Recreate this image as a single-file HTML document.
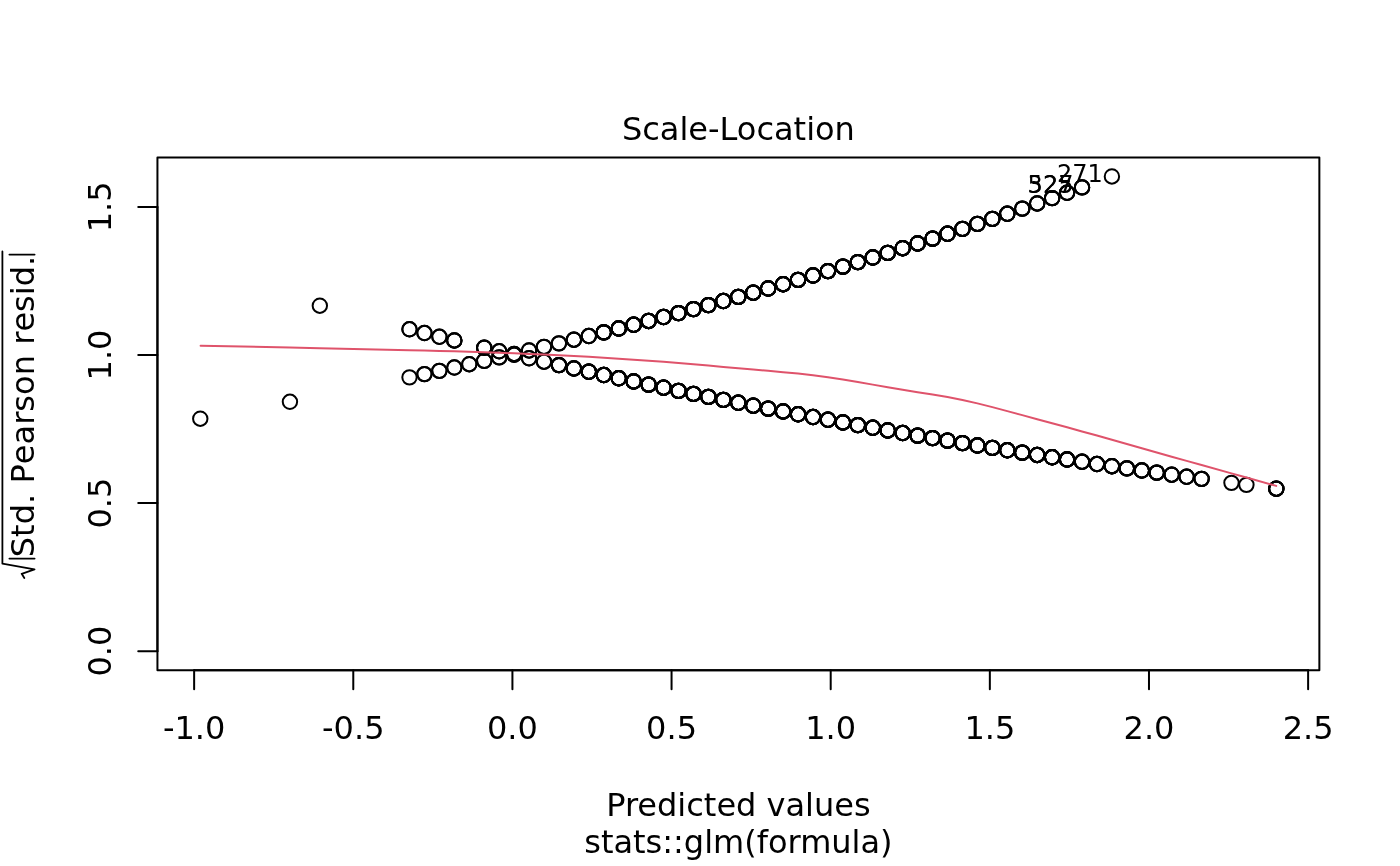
<!DOCTYPE html>
<html lang="en"><head><meta charset="utf-8"><title>Scale-Location</title>
<style>html,body{margin:0;padding:0;background:#fff}body{width:1400px;height:866px;overflow:hidden}svg{display:block}text{font-family:'DejaVu Sans','Liberation Sans',sans-serif;fill:#000}.l{stroke:#000;stroke-width:2;stroke-linecap:round;stroke-linejoin:round;fill:none}.p circle{stroke:#000;stroke-width:2;fill:none}.t{font-size:32px}.s{font-size:24px}</style></head><body>
<svg width="1400" height="866" viewBox="0 0 1400 866">
<rect width="1400" height="866" fill="#fff"/>
<g class="p">
<circle cx="409.50" cy="377.34" r="7.2"/>
<circle cx="424.44" cy="374.12" r="7.2"/>
<circle cx="424.44" cy="374.12" r="7.2"/>
<circle cx="439.39" cy="370.85" r="7.2"/>
<circle cx="439.39" cy="370.85" r="7.2"/>
<circle cx="454.33" cy="367.55" r="7.2"/>
<circle cx="454.33" cy="367.55" r="7.2"/>
<circle cx="469.28" cy="364.21" r="7.2"/>
<circle cx="469.28" cy="364.21" r="7.2"/>
<circle cx="484.23" cy="360.83" r="7.2"/>
<circle cx="484.23" cy="360.83" r="7.2"/>
<circle cx="499.17" cy="357.42" r="7.2"/>
<circle cx="499.17" cy="357.42" r="7.2"/>
<circle cx="514.12" cy="353.96" r="7.2"/>
<circle cx="514.12" cy="353.96" r="7.2"/>
<circle cx="529.06" cy="350.46" r="7.2"/>
<circle cx="529.06" cy="350.46" r="7.2"/>
<circle cx="544.00" cy="346.91" r="7.2"/>
<circle cx="544.00" cy="346.91" r="7.2"/>
<circle cx="558.95" cy="343.33" r="7.2"/>
<circle cx="558.95" cy="343.33" r="7.2"/>
<circle cx="573.89" cy="339.71" r="7.2"/>
<circle cx="573.89" cy="339.71" r="7.2"/>
<circle cx="573.89" cy="339.71" r="7.2"/>
<circle cx="588.84" cy="336.04" r="7.2"/>
<circle cx="588.84" cy="336.04" r="7.2"/>
<circle cx="588.84" cy="336.04" r="7.2"/>
<circle cx="603.78" cy="332.33" r="7.2"/>
<circle cx="603.78" cy="332.33" r="7.2"/>
<circle cx="603.78" cy="332.33" r="7.2"/>
<circle cx="603.78" cy="332.33" r="7.2"/>
<circle cx="603.78" cy="332.33" r="7.2"/>
<circle cx="603.78" cy="332.33" r="7.2"/>
<circle cx="618.73" cy="328.57" r="7.2"/>
<circle cx="618.73" cy="328.57" r="7.2"/>
<circle cx="618.73" cy="328.57" r="7.2"/>
<circle cx="618.73" cy="328.57" r="7.2"/>
<circle cx="618.73" cy="328.57" r="7.2"/>
<circle cx="618.73" cy="328.57" r="7.2"/>
<circle cx="633.67" cy="324.77" r="7.2"/>
<circle cx="633.67" cy="324.77" r="7.2"/>
<circle cx="633.67" cy="324.77" r="7.2"/>
<circle cx="633.67" cy="324.77" r="7.2"/>
<circle cx="633.67" cy="324.77" r="7.2"/>
<circle cx="633.67" cy="324.77" r="7.2"/>
<circle cx="648.62" cy="320.93" r="7.2"/>
<circle cx="648.62" cy="320.93" r="7.2"/>
<circle cx="648.62" cy="320.93" r="7.2"/>
<circle cx="648.62" cy="320.93" r="7.2"/>
<circle cx="648.62" cy="320.93" r="7.2"/>
<circle cx="648.62" cy="320.93" r="7.2"/>
<circle cx="663.57" cy="317.04" r="7.2"/>
<circle cx="663.57" cy="317.04" r="7.2"/>
<circle cx="663.57" cy="317.04" r="7.2"/>
<circle cx="663.57" cy="317.04" r="7.2"/>
<circle cx="663.57" cy="317.04" r="7.2"/>
<circle cx="663.57" cy="317.04" r="7.2"/>
<circle cx="678.51" cy="313.11" r="7.2"/>
<circle cx="678.51" cy="313.11" r="7.2"/>
<circle cx="678.51" cy="313.11" r="7.2"/>
<circle cx="678.51" cy="313.11" r="7.2"/>
<circle cx="678.51" cy="313.11" r="7.2"/>
<circle cx="678.51" cy="313.11" r="7.2"/>
<circle cx="693.45" cy="309.12" r="7.2"/>
<circle cx="693.45" cy="309.12" r="7.2"/>
<circle cx="693.45" cy="309.12" r="7.2"/>
<circle cx="693.45" cy="309.12" r="7.2"/>
<circle cx="693.45" cy="309.12" r="7.2"/>
<circle cx="693.45" cy="309.12" r="7.2"/>
<circle cx="708.40" cy="305.10" r="7.2"/>
<circle cx="708.40" cy="305.10" r="7.2"/>
<circle cx="708.40" cy="305.10" r="7.2"/>
<circle cx="708.40" cy="305.10" r="7.2"/>
<circle cx="708.40" cy="305.10" r="7.2"/>
<circle cx="708.40" cy="305.10" r="7.2"/>
<circle cx="723.35" cy="301.02" r="7.2"/>
<circle cx="723.35" cy="301.02" r="7.2"/>
<circle cx="723.35" cy="301.02" r="7.2"/>
<circle cx="723.35" cy="301.02" r="7.2"/>
<circle cx="723.35" cy="301.02" r="7.2"/>
<circle cx="723.35" cy="301.02" r="7.2"/>
<circle cx="738.29" cy="296.90" r="7.2"/>
<circle cx="738.29" cy="296.90" r="7.2"/>
<circle cx="738.29" cy="296.90" r="7.2"/>
<circle cx="738.29" cy="296.90" r="7.2"/>
<circle cx="738.29" cy="296.90" r="7.2"/>
<circle cx="738.29" cy="296.90" r="7.2"/>
<circle cx="753.24" cy="292.73" r="7.2"/>
<circle cx="753.24" cy="292.73" r="7.2"/>
<circle cx="753.24" cy="292.73" r="7.2"/>
<circle cx="753.24" cy="292.73" r="7.2"/>
<circle cx="753.24" cy="292.73" r="7.2"/>
<circle cx="753.24" cy="292.73" r="7.2"/>
<circle cx="768.18" cy="288.50" r="7.2"/>
<circle cx="768.18" cy="288.50" r="7.2"/>
<circle cx="768.18" cy="288.50" r="7.2"/>
<circle cx="768.18" cy="288.50" r="7.2"/>
<circle cx="768.18" cy="288.50" r="7.2"/>
<circle cx="768.18" cy="288.50" r="7.2"/>
<circle cx="783.12" cy="284.23" r="7.2"/>
<circle cx="783.12" cy="284.23" r="7.2"/>
<circle cx="783.12" cy="284.23" r="7.2"/>
<circle cx="783.12" cy="284.23" r="7.2"/>
<circle cx="783.12" cy="284.23" r="7.2"/>
<circle cx="783.12" cy="284.23" r="7.2"/>
<circle cx="798.07" cy="279.91" r="7.2"/>
<circle cx="798.07" cy="279.91" r="7.2"/>
<circle cx="798.07" cy="279.91" r="7.2"/>
<circle cx="798.07" cy="279.91" r="7.2"/>
<circle cx="798.07" cy="279.91" r="7.2"/>
<circle cx="798.07" cy="279.91" r="7.2"/>
<circle cx="813.01" cy="275.54" r="7.2"/>
<circle cx="813.01" cy="275.54" r="7.2"/>
<circle cx="813.01" cy="275.54" r="7.2"/>
<circle cx="813.01" cy="275.54" r="7.2"/>
<circle cx="813.01" cy="275.54" r="7.2"/>
<circle cx="813.01" cy="275.54" r="7.2"/>
<circle cx="827.96" cy="271.12" r="7.2"/>
<circle cx="827.96" cy="271.12" r="7.2"/>
<circle cx="827.96" cy="271.12" r="7.2"/>
<circle cx="827.96" cy="271.12" r="7.2"/>
<circle cx="827.96" cy="271.12" r="7.2"/>
<circle cx="827.96" cy="271.12" r="7.2"/>
<circle cx="842.90" cy="266.64" r="7.2"/>
<circle cx="842.90" cy="266.64" r="7.2"/>
<circle cx="842.90" cy="266.64" r="7.2"/>
<circle cx="842.90" cy="266.64" r="7.2"/>
<circle cx="842.90" cy="266.64" r="7.2"/>
<circle cx="842.90" cy="266.64" r="7.2"/>
<circle cx="857.85" cy="262.11" r="7.2"/>
<circle cx="857.85" cy="262.11" r="7.2"/>
<circle cx="857.85" cy="262.11" r="7.2"/>
<circle cx="857.85" cy="262.11" r="7.2"/>
<circle cx="857.85" cy="262.11" r="7.2"/>
<circle cx="857.85" cy="262.11" r="7.2"/>
<circle cx="872.80" cy="257.53" r="7.2"/>
<circle cx="872.80" cy="257.53" r="7.2"/>
<circle cx="872.80" cy="257.53" r="7.2"/>
<circle cx="872.80" cy="257.53" r="7.2"/>
<circle cx="872.80" cy="257.53" r="7.2"/>
<circle cx="872.80" cy="257.53" r="7.2"/>
<circle cx="887.74" cy="252.90" r="7.2"/>
<circle cx="887.74" cy="252.90" r="7.2"/>
<circle cx="887.74" cy="252.90" r="7.2"/>
<circle cx="887.74" cy="252.90" r="7.2"/>
<circle cx="887.74" cy="252.90" r="7.2"/>
<circle cx="887.74" cy="252.90" r="7.2"/>
<circle cx="902.68" cy="248.20" r="7.2"/>
<circle cx="902.68" cy="248.20" r="7.2"/>
<circle cx="902.68" cy="248.20" r="7.2"/>
<circle cx="902.68" cy="248.20" r="7.2"/>
<circle cx="902.68" cy="248.20" r="7.2"/>
<circle cx="902.68" cy="248.20" r="7.2"/>
<circle cx="917.63" cy="243.46" r="7.2"/>
<circle cx="917.63" cy="243.46" r="7.2"/>
<circle cx="917.63" cy="243.46" r="7.2"/>
<circle cx="917.63" cy="243.46" r="7.2"/>
<circle cx="917.63" cy="243.46" r="7.2"/>
<circle cx="917.63" cy="243.46" r="7.2"/>
<circle cx="932.58" cy="238.66" r="7.2"/>
<circle cx="932.58" cy="238.66" r="7.2"/>
<circle cx="932.58" cy="238.66" r="7.2"/>
<circle cx="932.58" cy="238.66" r="7.2"/>
<circle cx="932.58" cy="238.66" r="7.2"/>
<circle cx="932.58" cy="238.66" r="7.2"/>
<circle cx="947.52" cy="233.80" r="7.2"/>
<circle cx="947.52" cy="233.80" r="7.2"/>
<circle cx="947.52" cy="233.80" r="7.2"/>
<circle cx="947.52" cy="233.80" r="7.2"/>
<circle cx="947.52" cy="233.80" r="7.2"/>
<circle cx="947.52" cy="233.80" r="7.2"/>
<circle cx="962.47" cy="228.89" r="7.2"/>
<circle cx="962.47" cy="228.89" r="7.2"/>
<circle cx="962.47" cy="228.89" r="7.2"/>
<circle cx="962.47" cy="228.89" r="7.2"/>
<circle cx="977.41" cy="223.91" r="7.2"/>
<circle cx="977.41" cy="223.91" r="7.2"/>
<circle cx="977.41" cy="223.91" r="7.2"/>
<circle cx="977.41" cy="223.91" r="7.2"/>
<circle cx="992.36" cy="218.88" r="7.2"/>
<circle cx="992.36" cy="218.88" r="7.2"/>
<circle cx="992.36" cy="218.88" r="7.2"/>
<circle cx="992.36" cy="218.88" r="7.2"/>
<circle cx="1007.30" cy="213.79" r="7.2"/>
<circle cx="1007.30" cy="213.79" r="7.2"/>
<circle cx="1007.30" cy="213.79" r="7.2"/>
<circle cx="1007.30" cy="213.79" r="7.2"/>
<circle cx="1022.25" cy="208.64" r="7.2"/>
<circle cx="1022.25" cy="208.64" r="7.2"/>
<circle cx="1022.25" cy="208.64" r="7.2"/>
<circle cx="1037.19" cy="203.43" r="7.2"/>
<circle cx="1037.19" cy="203.43" r="7.2"/>
<circle cx="1037.19" cy="203.43" r="7.2"/>
<circle cx="1052.13" cy="198.16" r="7.2"/>
<circle cx="1052.13" cy="198.16" r="7.2"/>
<circle cx="1052.13" cy="198.16" r="7.2"/>
<circle cx="1067.08" cy="192.82" r="7.2"/>
<circle cx="1067.08" cy="192.82" r="7.2"/>
<circle cx="1067.08" cy="192.82" r="7.2"/>
<circle cx="1082.03" cy="187.42" r="7.2"/>
<circle cx="1082.03" cy="187.42" r="7.2"/>
<circle cx="1082.03" cy="187.42" r="7.2"/>
<circle cx="1111.91" cy="176.44" r="7.2"/>
<circle cx="409.50" cy="329.28" r="7.2"/>
<circle cx="409.50" cy="329.28" r="7.2"/>
<circle cx="424.44" cy="333.05" r="7.2"/>
<circle cx="424.44" cy="333.05" r="7.2"/>
<circle cx="439.39" cy="336.78" r="7.2"/>
<circle cx="439.39" cy="336.78" r="7.2"/>
<circle cx="454.33" cy="340.47" r="7.2"/>
<circle cx="454.33" cy="340.47" r="7.2"/>
<circle cx="454.33" cy="340.47" r="7.2"/>
<circle cx="484.23" cy="347.71" r="7.2"/>
<circle cx="484.23" cy="347.71" r="7.2"/>
<circle cx="484.23" cy="347.71" r="7.2"/>
<circle cx="499.17" cy="351.26" r="7.2"/>
<circle cx="499.17" cy="351.26" r="7.2"/>
<circle cx="514.12" cy="354.78" r="7.2"/>
<circle cx="514.12" cy="354.78" r="7.2"/>
<circle cx="529.06" cy="358.25" r="7.2"/>
<circle cx="529.06" cy="358.25" r="7.2"/>
<circle cx="544.00" cy="361.69" r="7.2"/>
<circle cx="544.00" cy="361.69" r="7.2"/>
<circle cx="558.95" cy="365.08" r="7.2"/>
<circle cx="558.95" cy="365.08" r="7.2"/>
<circle cx="558.95" cy="365.08" r="7.2"/>
<circle cx="558.95" cy="365.08" r="7.2"/>
<circle cx="573.89" cy="368.43" r="7.2"/>
<circle cx="573.89" cy="368.43" r="7.2"/>
<circle cx="573.89" cy="368.43" r="7.2"/>
<circle cx="573.89" cy="368.43" r="7.2"/>
<circle cx="588.84" cy="371.75" r="7.2"/>
<circle cx="588.84" cy="371.75" r="7.2"/>
<circle cx="588.84" cy="371.75" r="7.2"/>
<circle cx="588.84" cy="371.75" r="7.2"/>
<circle cx="588.84" cy="371.75" r="7.2"/>
<circle cx="588.84" cy="371.75" r="7.2"/>
<circle cx="603.78" cy="375.02" r="7.2"/>
<circle cx="603.78" cy="375.02" r="7.2"/>
<circle cx="603.78" cy="375.02" r="7.2"/>
<circle cx="603.78" cy="375.02" r="7.2"/>
<circle cx="603.78" cy="375.02" r="7.2"/>
<circle cx="603.78" cy="375.02" r="7.2"/>
<circle cx="618.73" cy="378.26" r="7.2"/>
<circle cx="618.73" cy="378.26" r="7.2"/>
<circle cx="618.73" cy="378.26" r="7.2"/>
<circle cx="618.73" cy="378.26" r="7.2"/>
<circle cx="618.73" cy="378.26" r="7.2"/>
<circle cx="618.73" cy="378.26" r="7.2"/>
<circle cx="633.67" cy="381.46" r="7.2"/>
<circle cx="633.67" cy="381.46" r="7.2"/>
<circle cx="633.67" cy="381.46" r="7.2"/>
<circle cx="633.67" cy="381.46" r="7.2"/>
<circle cx="633.67" cy="381.46" r="7.2"/>
<circle cx="633.67" cy="381.46" r="7.2"/>
<circle cx="648.62" cy="384.62" r="7.2"/>
<circle cx="648.62" cy="384.62" r="7.2"/>
<circle cx="648.62" cy="384.62" r="7.2"/>
<circle cx="648.62" cy="384.62" r="7.2"/>
<circle cx="648.62" cy="384.62" r="7.2"/>
<circle cx="648.62" cy="384.62" r="7.2"/>
<circle cx="663.57" cy="387.74" r="7.2"/>
<circle cx="663.57" cy="387.74" r="7.2"/>
<circle cx="663.57" cy="387.74" r="7.2"/>
<circle cx="663.57" cy="387.74" r="7.2"/>
<circle cx="663.57" cy="387.74" r="7.2"/>
<circle cx="663.57" cy="387.74" r="7.2"/>
<circle cx="678.51" cy="390.83" r="7.2"/>
<circle cx="678.51" cy="390.83" r="7.2"/>
<circle cx="678.51" cy="390.83" r="7.2"/>
<circle cx="678.51" cy="390.83" r="7.2"/>
<circle cx="678.51" cy="390.83" r="7.2"/>
<circle cx="678.51" cy="390.83" r="7.2"/>
<circle cx="693.45" cy="393.88" r="7.2"/>
<circle cx="693.45" cy="393.88" r="7.2"/>
<circle cx="693.45" cy="393.88" r="7.2"/>
<circle cx="693.45" cy="393.88" r="7.2"/>
<circle cx="693.45" cy="393.88" r="7.2"/>
<circle cx="693.45" cy="393.88" r="7.2"/>
<circle cx="708.40" cy="396.89" r="7.2"/>
<circle cx="708.40" cy="396.89" r="7.2"/>
<circle cx="708.40" cy="396.89" r="7.2"/>
<circle cx="708.40" cy="396.89" r="7.2"/>
<circle cx="708.40" cy="396.89" r="7.2"/>
<circle cx="708.40" cy="396.89" r="7.2"/>
<circle cx="723.35" cy="399.88" r="7.2"/>
<circle cx="723.35" cy="399.88" r="7.2"/>
<circle cx="723.35" cy="399.88" r="7.2"/>
<circle cx="723.35" cy="399.88" r="7.2"/>
<circle cx="723.35" cy="399.88" r="7.2"/>
<circle cx="723.35" cy="399.88" r="7.2"/>
<circle cx="738.29" cy="402.82" r="7.2"/>
<circle cx="738.29" cy="402.82" r="7.2"/>
<circle cx="738.29" cy="402.82" r="7.2"/>
<circle cx="738.29" cy="402.82" r="7.2"/>
<circle cx="738.29" cy="402.82" r="7.2"/>
<circle cx="738.29" cy="402.82" r="7.2"/>
<circle cx="753.24" cy="405.73" r="7.2"/>
<circle cx="753.24" cy="405.73" r="7.2"/>
<circle cx="753.24" cy="405.73" r="7.2"/>
<circle cx="753.24" cy="405.73" r="7.2"/>
<circle cx="753.24" cy="405.73" r="7.2"/>
<circle cx="753.24" cy="405.73" r="7.2"/>
<circle cx="768.18" cy="408.61" r="7.2"/>
<circle cx="768.18" cy="408.61" r="7.2"/>
<circle cx="768.18" cy="408.61" r="7.2"/>
<circle cx="768.18" cy="408.61" r="7.2"/>
<circle cx="768.18" cy="408.61" r="7.2"/>
<circle cx="768.18" cy="408.61" r="7.2"/>
<circle cx="783.12" cy="411.45" r="7.2"/>
<circle cx="783.12" cy="411.45" r="7.2"/>
<circle cx="783.12" cy="411.45" r="7.2"/>
<circle cx="783.12" cy="411.45" r="7.2"/>
<circle cx="783.12" cy="411.45" r="7.2"/>
<circle cx="783.12" cy="411.45" r="7.2"/>
<circle cx="798.07" cy="414.26" r="7.2"/>
<circle cx="798.07" cy="414.26" r="7.2"/>
<circle cx="798.07" cy="414.26" r="7.2"/>
<circle cx="798.07" cy="414.26" r="7.2"/>
<circle cx="798.07" cy="414.26" r="7.2"/>
<circle cx="798.07" cy="414.26" r="7.2"/>
<circle cx="813.01" cy="417.04" r="7.2"/>
<circle cx="813.01" cy="417.04" r="7.2"/>
<circle cx="813.01" cy="417.04" r="7.2"/>
<circle cx="813.01" cy="417.04" r="7.2"/>
<circle cx="813.01" cy="417.04" r="7.2"/>
<circle cx="813.01" cy="417.04" r="7.2"/>
<circle cx="827.96" cy="419.78" r="7.2"/>
<circle cx="827.96" cy="419.78" r="7.2"/>
<circle cx="827.96" cy="419.78" r="7.2"/>
<circle cx="827.96" cy="419.78" r="7.2"/>
<circle cx="827.96" cy="419.78" r="7.2"/>
<circle cx="827.96" cy="419.78" r="7.2"/>
<circle cx="842.90" cy="422.49" r="7.2"/>
<circle cx="842.90" cy="422.49" r="7.2"/>
<circle cx="842.90" cy="422.49" r="7.2"/>
<circle cx="842.90" cy="422.49" r="7.2"/>
<circle cx="842.90" cy="422.49" r="7.2"/>
<circle cx="842.90" cy="422.49" r="7.2"/>
<circle cx="857.85" cy="425.17" r="7.2"/>
<circle cx="857.85" cy="425.17" r="7.2"/>
<circle cx="857.85" cy="425.17" r="7.2"/>
<circle cx="857.85" cy="425.17" r="7.2"/>
<circle cx="857.85" cy="425.17" r="7.2"/>
<circle cx="857.85" cy="425.17" r="7.2"/>
<circle cx="872.80" cy="427.82" r="7.2"/>
<circle cx="872.80" cy="427.82" r="7.2"/>
<circle cx="872.80" cy="427.82" r="7.2"/>
<circle cx="872.80" cy="427.82" r="7.2"/>
<circle cx="872.80" cy="427.82" r="7.2"/>
<circle cx="872.80" cy="427.82" r="7.2"/>
<circle cx="887.74" cy="430.44" r="7.2"/>
<circle cx="887.74" cy="430.44" r="7.2"/>
<circle cx="887.74" cy="430.44" r="7.2"/>
<circle cx="887.74" cy="430.44" r="7.2"/>
<circle cx="887.74" cy="430.44" r="7.2"/>
<circle cx="887.74" cy="430.44" r="7.2"/>
<circle cx="902.68" cy="433.03" r="7.2"/>
<circle cx="902.68" cy="433.03" r="7.2"/>
<circle cx="902.68" cy="433.03" r="7.2"/>
<circle cx="902.68" cy="433.03" r="7.2"/>
<circle cx="902.68" cy="433.03" r="7.2"/>
<circle cx="902.68" cy="433.03" r="7.2"/>
<circle cx="917.63" cy="435.58" r="7.2"/>
<circle cx="917.63" cy="435.58" r="7.2"/>
<circle cx="917.63" cy="435.58" r="7.2"/>
<circle cx="917.63" cy="435.58" r="7.2"/>
<circle cx="917.63" cy="435.58" r="7.2"/>
<circle cx="917.63" cy="435.58" r="7.2"/>
<circle cx="932.58" cy="438.11" r="7.2"/>
<circle cx="932.58" cy="438.11" r="7.2"/>
<circle cx="932.58" cy="438.11" r="7.2"/>
<circle cx="932.58" cy="438.11" r="7.2"/>
<circle cx="932.58" cy="438.11" r="7.2"/>
<circle cx="932.58" cy="438.11" r="7.2"/>
<circle cx="947.52" cy="440.61" r="7.2"/>
<circle cx="947.52" cy="440.61" r="7.2"/>
<circle cx="947.52" cy="440.61" r="7.2"/>
<circle cx="947.52" cy="440.61" r="7.2"/>
<circle cx="947.52" cy="440.61" r="7.2"/>
<circle cx="947.52" cy="440.61" r="7.2"/>
<circle cx="962.47" cy="443.08" r="7.2"/>
<circle cx="962.47" cy="443.08" r="7.2"/>
<circle cx="962.47" cy="443.08" r="7.2"/>
<circle cx="962.47" cy="443.08" r="7.2"/>
<circle cx="962.47" cy="443.08" r="7.2"/>
<circle cx="962.47" cy="443.08" r="7.2"/>
<circle cx="977.41" cy="445.51" r="7.2"/>
<circle cx="977.41" cy="445.51" r="7.2"/>
<circle cx="977.41" cy="445.51" r="7.2"/>
<circle cx="977.41" cy="445.51" r="7.2"/>
<circle cx="977.41" cy="445.51" r="7.2"/>
<circle cx="977.41" cy="445.51" r="7.2"/>
<circle cx="992.36" cy="447.92" r="7.2"/>
<circle cx="992.36" cy="447.92" r="7.2"/>
<circle cx="992.36" cy="447.92" r="7.2"/>
<circle cx="992.36" cy="447.92" r="7.2"/>
<circle cx="992.36" cy="447.92" r="7.2"/>
<circle cx="992.36" cy="447.92" r="7.2"/>
<circle cx="1007.30" cy="450.31" r="7.2"/>
<circle cx="1007.30" cy="450.31" r="7.2"/>
<circle cx="1007.30" cy="450.31" r="7.2"/>
<circle cx="1007.30" cy="450.31" r="7.2"/>
<circle cx="1007.30" cy="450.31" r="7.2"/>
<circle cx="1007.30" cy="450.31" r="7.2"/>
<circle cx="1022.25" cy="452.66" r="7.2"/>
<circle cx="1022.25" cy="452.66" r="7.2"/>
<circle cx="1022.25" cy="452.66" r="7.2"/>
<circle cx="1022.25" cy="452.66" r="7.2"/>
<circle cx="1022.25" cy="452.66" r="7.2"/>
<circle cx="1022.25" cy="452.66" r="7.2"/>
<circle cx="1037.19" cy="454.99" r="7.2"/>
<circle cx="1037.19" cy="454.99" r="7.2"/>
<circle cx="1037.19" cy="454.99" r="7.2"/>
<circle cx="1037.19" cy="454.99" r="7.2"/>
<circle cx="1037.19" cy="454.99" r="7.2"/>
<circle cx="1037.19" cy="454.99" r="7.2"/>
<circle cx="1052.13" cy="457.29" r="7.2"/>
<circle cx="1052.13" cy="457.29" r="7.2"/>
<circle cx="1052.13" cy="457.29" r="7.2"/>
<circle cx="1052.13" cy="457.29" r="7.2"/>
<circle cx="1052.13" cy="457.29" r="7.2"/>
<circle cx="1052.13" cy="457.29" r="7.2"/>
<circle cx="1067.08" cy="459.56" r="7.2"/>
<circle cx="1067.08" cy="459.56" r="7.2"/>
<circle cx="1067.08" cy="459.56" r="7.2"/>
<circle cx="1067.08" cy="459.56" r="7.2"/>
<circle cx="1067.08" cy="459.56" r="7.2"/>
<circle cx="1067.08" cy="459.56" r="7.2"/>
<circle cx="1082.03" cy="461.81" r="7.2"/>
<circle cx="1082.03" cy="461.81" r="7.2"/>
<circle cx="1082.03" cy="461.81" r="7.2"/>
<circle cx="1082.03" cy="461.81" r="7.2"/>
<circle cx="1096.97" cy="464.02" r="7.2"/>
<circle cx="1096.97" cy="464.02" r="7.2"/>
<circle cx="1096.97" cy="464.02" r="7.2"/>
<circle cx="1096.97" cy="464.02" r="7.2"/>
<circle cx="1111.91" cy="466.22" r="7.2"/>
<circle cx="1111.91" cy="466.22" r="7.2"/>
<circle cx="1111.91" cy="466.22" r="7.2"/>
<circle cx="1111.91" cy="466.22" r="7.2"/>
<circle cx="1126.86" cy="468.39" r="7.2"/>
<circle cx="1126.86" cy="468.39" r="7.2"/>
<circle cx="1126.86" cy="468.39" r="7.2"/>
<circle cx="1126.86" cy="468.39" r="7.2"/>
<circle cx="1141.81" cy="470.53" r="7.2"/>
<circle cx="1141.81" cy="470.53" r="7.2"/>
<circle cx="1141.81" cy="470.53" r="7.2"/>
<circle cx="1141.81" cy="470.53" r="7.2"/>
<circle cx="1156.75" cy="472.65" r="7.2"/>
<circle cx="1156.75" cy="472.65" r="7.2"/>
<circle cx="1156.75" cy="472.65" r="7.2"/>
<circle cx="1156.75" cy="472.65" r="7.2"/>
<circle cx="1171.70" cy="474.74" r="7.2"/>
<circle cx="1171.70" cy="474.74" r="7.2"/>
<circle cx="1171.70" cy="474.74" r="7.2"/>
<circle cx="1186.64" cy="476.81" r="7.2"/>
<circle cx="1186.64" cy="476.81" r="7.2"/>
<circle cx="1186.64" cy="476.81" r="7.2"/>
<circle cx="1201.59" cy="478.85" r="7.2"/>
<circle cx="1201.59" cy="478.85" r="7.2"/>
<circle cx="1201.59" cy="478.85" r="7.2"/>
<circle cx="1231.47" cy="482.86" r="7.2"/>
<circle cx="1246.42" cy="484.84" r="7.2"/>
<circle cx="1276.31" cy="488.71" r="7.2"/>
<circle cx="1276.31" cy="488.71" r="7.2"/>
<circle cx="1276.31" cy="488.71" r="7.2"/>
<circle cx="1276.31" cy="488.71" r="7.2"/>
<circle cx="200.27" cy="418.74" r="7.2"/>
<circle cx="289.94" cy="401.82" r="7.2"/>
<circle cx="319.83" cy="305.74" r="7.2"/>
</g>
<polyline points="200.60,345.80 289.94,347.51 319.83,348.16 409.50,350.23 424.44,350.59 439.39,350.96 454.33,351.35 469.28,351.78 484.23,352.26 499.17,352.78 514.12,353.35 529.06,353.96 544.00,354.61 558.95,355.32 573.89,356.07 588.84,356.87 603.78,357.72 618.73,358.64 633.67,359.63 648.62,360.68 663.57,361.76 678.51,362.91 693.45,364.14 708.40,365.46 723.35,366.90 738.29,368.29 753.24,369.57 768.18,370.84 783.12,372.13 798.07,373.48 813.01,375.15 827.96,377.20 842.90,379.45 857.85,381.98 872.80,384.62 887.74,387.21 902.68,389.78 917.63,392.20 932.58,394.46 947.52,396.96 962.47,399.99 977.41,403.38 992.36,407.14 1007.30,411.11 1022.25,415.15 1037.19,419.24 1052.13,423.29 1067.08,427.34 1082.03,431.43 1096.97,435.56 1111.91,439.74 1126.86,443.99 1141.81,448.27 1156.75,452.53 1171.70,456.73 1186.64,460.89 1201.59,465.04 1231.47,473.34 1246.42,477.52 1276.20,485.90" fill="none" stroke="#DF536B" stroke-width="2" stroke-linecap="round" stroke-linejoin="round"/>
<rect class="l" x="157.44" y="157.44" width="1161.92" height="512.72"/>
<path class="l" d="M194.14 670.16H1308.12"/>
<path class="l" d="M194.14 670.16v19.2"/>
<text class="t" x="194.14" y="739.28" text-anchor="middle">-1.0</text>
<path class="l" d="M353.28 670.16v19.2"/>
<text class="t" x="353.28" y="739.28" text-anchor="middle">-0.5</text>
<path class="l" d="M512.42 670.16v19.2"/>
<text class="t" x="512.42" y="739.28" text-anchor="middle">0.0</text>
<path class="l" d="M671.56 670.16v19.2"/>
<text class="t" x="671.56" y="739.28" text-anchor="middle">0.5</text>
<path class="l" d="M830.70 670.16v19.2"/>
<text class="t" x="830.70" y="739.28" text-anchor="middle">1.0</text>
<path class="l" d="M989.84 670.16v19.2"/>
<text class="t" x="989.84" y="739.28" text-anchor="middle">1.5</text>
<path class="l" d="M1148.98 670.16v19.2"/>
<text class="t" x="1148.98" y="739.28" text-anchor="middle">2.0</text>
<path class="l" d="M1308.12 670.16v19.2"/>
<text class="t" x="1308.12" y="739.28" text-anchor="middle">2.5</text>
<path class="l" d="M157.44 651.17V206.88"/>
<path class="l" d="M157.44 651.17h-19.2"/>
<text class="t" transform="translate(111.36 651.17) rotate(-90)" text-anchor="middle">0.0</text>
<path class="l" d="M157.44 503.07h-19.2"/>
<text class="t" transform="translate(111.36 503.07) rotate(-90)" text-anchor="middle">0.5</text>
<path class="l" d="M157.44 354.98h-19.2"/>
<text class="t" transform="translate(111.36 354.98) rotate(-90)" text-anchor="middle">1.0</text>
<path class="l" d="M157.44 206.88h-19.2"/>
<text class="t" transform="translate(111.36 206.88) rotate(-90)" text-anchor="middle">1.5</text>
<text class="t" x="738.40" y="140.16" text-anchor="middle">Scale-Location</text>
<text class="t" x="738.40" y="816.08" text-anchor="middle">Predicted values</text>
<text class="t" x="738.40" y="852.96" text-anchor="middle">stats::glm(formula)</text>
<text class="s" x="1102.71" y="181.74" text-anchor="end">271</text>
<text class="s" x="1073.43" y="192.72" text-anchor="end">325</text>
<text class="s" x="1073.43" y="192.72" text-anchor="end">527</text>
<text class="t" transform="translate(33.9 557.3) rotate(-90)" style="font-kerning:none;letter-spacing:0.04px">Std. Pearson resid.</text>
<path d="M24.3 578L21.7 573.8L34.5 569.3L2.4 563.7V251.4" fill="none" stroke="#000" stroke-width="1.8" stroke-linejoin="round" stroke-linecap="round"/>
<path d="M9.4 558.6H34.6M9.4 254.55H34.6" fill="none" stroke="#000" stroke-width="1.8" stroke-linecap="round"/>
</svg></body></html>
